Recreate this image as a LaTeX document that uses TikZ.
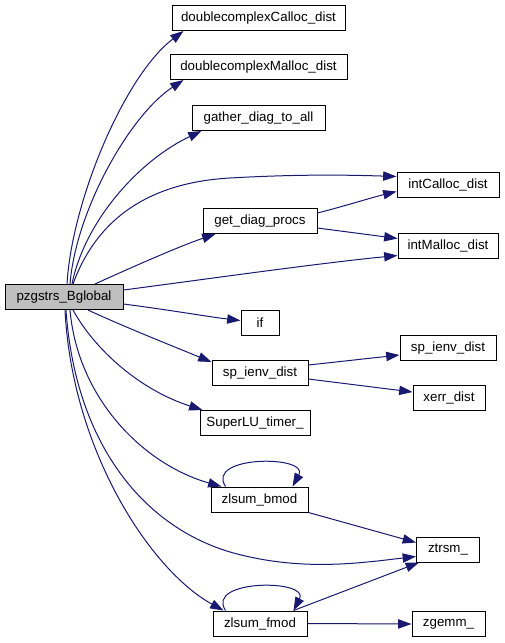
\documentclass[tikz,border=0pt]{standalone}
\usepackage{fontspec}
\setmainfont{Liberation Sans}
\usetikzlibrary{arrows.meta,calc}
\definecolor{edgeblue}{HTML}{191970}
\definecolor{maingray}{HTML}{BFBFBF}
\begin{document}
\begin{tikzpicture}[x=0.75pt,y=-0.75pt,
  box/.style={draw=black,line width=0.75pt,minimum height=18.75pt,inner sep=0pt,font=\fontsize{10pt}{12pt}\selectfont,fill=white},
  edge/.style={draw=edgeblue,line width=0.75pt,-{Triangle[length=10pt,width=7pt]}}]
\useasboundingbox (0,0) rectangle (505,643);
% nodes
\node[box,fill=maingray,minimum width=88.5pt] (main) at (64,297) {pzgstrs\_Bglobal};
\node[box,minimum width=129.75pt] (dcc) at (258.5,18) {doublecomplexCalloc\_dist};
\node[box,minimum width=132.75pt] (dcm) at (258.5,67) {doublecomplexMalloc\_dist};
\node[box,minimum width=99.75pt] (gather) at (258.5,118) {gather\_diag\_to\_all};
\node[box,minimum width=76.5pt] (intC) at (448,184.5) {intCalloc\_dist};
\node[box,minimum width=85.5pt] (gdp) at (260,221) {get\_diag\_procs};
\node[box,minimum width=75pt] (intM) at (448,245.5) {intMalloc\_dist};
\node[box,minimum width=28.5pt] (if) at (260,322.5) {if};
\node[box,minimum width=72pt] (spr) at (448,348) {sp\_ienv\_dist};
\node[box,minimum width=72pt] (spl) at (260,373) {sp\_ienv\_dist};
\node[box,minimum width=54pt] (xerr) at (449,398) {xerr\_dist};
\node[box,minimum width=82.5pt] (timer) at (255,423) {SuperLU\_timer\_};
\node[box,minimum width=72.75pt] (bmod) at (259.5,499.5) {zlsum\_bmod};
\node[box,minimum width=47.25pt] (ztrsm) at (448,549.5) {ztrsm\_};
\node[box,minimum width=70.5pt] (fmod) at (260,623.5) {zlsum\_fmod};
\node[box,minimum width=54.75pt] (zgemm) at (448.5,624) {zgemm\_};
% edges from main
\draw[edge] ($(main.north)+(3,0)$) .. controls (72,200) and (125,75) .. ($(dcc.south west)+(12,0)$);
\draw[edge] ($(main.north)+(6,0)$) .. controls (76,210) and (130,115) .. ($(dcm.south west)+(14,0)$);
\draw[edge] ($(main.north)+(8,0)$) .. controls (85,220) and (140,160) .. ($(gather.south west)+(10,0)$);
\draw[edge] ($(main.north)+(9,0)$) .. controls (100,210) and (160,182) .. (230,178) .. controls (300,174) and (350,175) .. ($(intC.west)+(0,-8)$);
\draw[edge] ($(main.north)+(31,0)$) .. controls (130,268) and (180,246) .. ($(gdp.south west)+(13,0)$);
\draw[edge] ($(main.east)+(0,-7)$) .. controls (200,280) and (320,263) .. ($(intM.west)+(0,10)$);
\draw[edge] ($(main.east)+(0,7)$) .. controls (170,310) and (210,317) .. ($(if.west)+(0,-2)$);
\draw[edge] ($(main.south)+(24,0)$) .. controls (120,325) and (170,345) .. ($(spl.west)+(0,-11)$);
\draw[edge] ($(main.south)+(9,0)$) .. controls (95,350) and (140,390) .. ($(timer.north west)+(3,0)$);
\draw[edge] ($(main.south)+(6,0)$) .. controls (78,400) and (145,465) .. ($(bmod.north west)+(11,0)$);
\draw[edge] ($(main.south)+(2,0)$) .. controls (75,440) and (140,525) .. (230,552) .. controls (300,572) and (360,563) .. ($(ztrsm.west)+(0,7)$);
\draw[edge] ($(main.south)+(1,0)$) .. controls (72,450) and (150,570) .. ($(fmod.north west)+(11,0)$);
% other edges
\draw[edge] ($(gdp.east)+(0,-8)$) .. controls (345,206) and (370,198) .. ($(intC.west)+(0,7)$);
\draw[edge] ($(gdp.east)+(0,7)$) -- ($(intM.west)+(0,-7)$);
\draw[edge] ($(spl.east)+(0,-8)$) -- ($(spr.west)+(0,7)$);
\draw[edge] ($(spl.east)+(0,6)$) -- ($(xerr.west)+(0,-6)$);
\draw[edge] ($(bmod.north west)+(15,0)$) .. controls (205,455) and (310,455) .. ($(bmod.north east)+(-16,0)$);
\draw[edge] (bmod.south east) -- ($(ztrsm.west)+(0,-7)$);
\draw[edge] ($(fmod.north west)+(13,0)$) .. controls (205,579) and (310,579) .. ($(fmod.north east)+(-14,0)$);
\draw[edge] ($(fmod.north east)+(-14,0)$) -- ($(ztrsm.south west)+(3,0)$);
\draw[edge] (fmod.east) -- (zgemm.west);
\end{tikzpicture}
\end{document}
